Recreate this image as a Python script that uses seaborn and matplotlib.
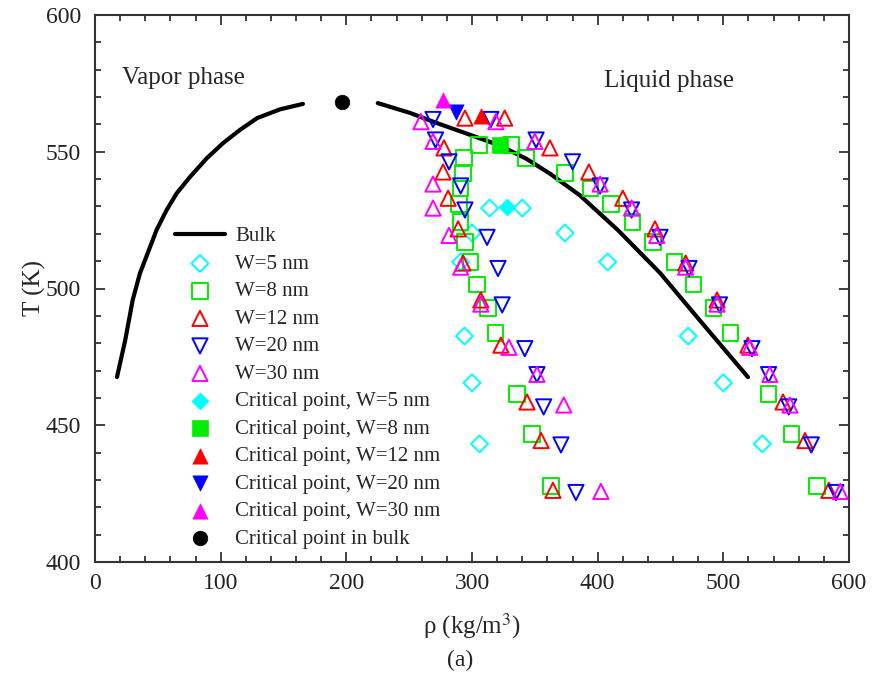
import matplotlib
matplotlib.use("Agg")
import matplotlib.pyplot as plt
import seaborn as sns
import numpy as np
from matplotlib.ticker import MultipleLocator

sns.set_theme(style="ticks")
plt.rcParams['font.family'] = ['Liberation Serif', 'DejaVu Serif']
plt.rcParams['mathtext.fontset'] = 'stix'

# ---- data ----
bulk_vap_rho = [17.5, 24, 30, 35.8, 42, 49, 57, 65, 75.6, 88.9, 102, 115.4, 129, 147.2, 165.5]
bulk_vap_T = [467.6, 481, 495.8, 505.6, 513, 521.4, 528.7, 534.8, 540.8, 547.6, 553.2, 558, 562.3, 565.5, 567.5]
bulk_liq_rho = [225, 250.7, 272, 296, 322, 343, 362, 386, 416, 449.6, 481, 519.6]
bulk_liq_T = [567.8, 564.2, 560.5, 556.6, 552.3, 547.5, 542, 534, 521.4, 505.7, 488.5, 467.6]
bulk_crit_rho = [196.5]
bulk_crit_T = [568.2]

w5_rho = [306, 300, 294, 291, 300, 314, 340, 374, 408, 472, 500, 531]
w5_T = [443.2, 465.5, 482.6, 509.7, 520.3, 529.4, 529.4, 520.3, 509.7, 482.6, 465.5, 443.2]
w5_crit = ([327.8], [529.8])

w8_T_half = [552.5, 547.7, 542.2, 536.7, 530.9, 524.3, 517, 509.7, 501.6, 492.9, 483.7, 461.4, 446.8, 427.8]
w8_rho_vap = [305.6, 293.6, 292.8, 291, 289.6, 291, 294.4, 299, 304, 312.7, 319, 335.8, 347.7, 362.9]
w8_rho_liq = [331, 343, 374, 394, 410.6, 428, 444, 461, 476, 492, 506, 536, 554, 574.5]
w8_crit = ([322], [552.5])

w12_T_half = [562.3, 551.4, 542.6, 533, 521.8, 509.3, 495.8, 479.3, 458.5, 444.4, 426.2]
w12_rho_vap = [294.4, 277.7, 277, 281, 289, 292.8, 307, 323, 343.8, 355, 364.4]
w12_rho_liq = [326, 362, 393, 420, 445.6, 470, 495, 519.6, 547.5, 565, 584]
w12_crit = ([307], [563])

w20_T_half = [561.8, 554.3, 546.3, 537.5, 528.7, 518.7, 507.3, 494, 478, 468.5, 456.7, 442.8, 425.4]
w20_rho_vap = [269, 271, 281.7, 291, 294.4, 312, 320.7, 324, 342, 351.7, 357, 370.8, 382.7]
w20_rho_liq = [315, 351, 380, 402, 427, 449.6, 472.7, 497, 522.8, 536, 552, 570, 589.6]
w20_crit = ([287.5], [564.6])

w30_T_half = [561, 553.8, 538.2, 529.4, 519.4, 507.8, 494.3, 478.5, 468.6, 457.4, 425.8]
w30_rho_vap = [259.4, 269, 269, 269, 281.7, 291, 307, 329.4, 351.7, 373, 402.6]
w30_rho_liq = [319, 350, 402, 427, 447, 470, 495, 521, 537, 553, 593]
w30_crit = ([277], [569])

x_ticks = [0, 100, 200, 300, 400, 500, 600]
y_ticks = [400, 450, 500, 550, 600]

# ---- figure ----
fig = plt.figure(figsize=(8.76, 6.76), dpi=100)
ax = fig.add_axes([95/876, 1-562/676, (849-95)/876, (562-15)/676])

sns.lineplot(x=bulk_vap_rho, y=bulk_vap_T, sort=False, color='black', lw=3, ax=ax, label='Bulk')
sns.lineplot(x=bulk_liq_rho, y=bulk_liq_T, sort=False, color='black', lw=3, ax=ax)

hollow = [
    ('W=5 nm', w5_rho, w5_T, 'D', '#00FFFF', 75),
    ('W=8 nm', w8_rho_vap + w8_rho_liq, w8_T_half + w8_T_half, 's', '#00EE00', 120),
    ('W=12 nm', w12_rho_vap + w12_rho_liq, w12_T_half + w12_T_half, '^', '#FF0000', 120),
    ('W=20 nm', w20_rho_vap + w20_rho_liq, w20_T_half + w20_T_half, 'v', '#0000FF', 120),
    ('W=30 nm', w30_rho_vap + w30_rho_liq, w30_T_half + w30_T_half, '^', '#FF00FF', 120),
]
for lab, xs, ys, m, c, s in hollow:
    sns.scatterplot(x=xs, y=ys, marker=m, s=s, color=c, facecolor='none', edgecolor=c,
                    linewidth=1.4, ax=ax, label=lab, zorder=3)

filled = [
    ('Critical point, W=5 nm', w5_crit, 'D', '#00FFFF', 75),
    ('Critical point, W=8 nm', w8_crit, 's', '#00EE00', 120),
    ('Critical point, W=12 nm', w12_crit, '^', '#FF0000', 120),
    ('Critical point, W=20 nm', w20_crit, 'v', '#0000FF', 120),
    ('Critical point, W=30 nm', w30_crit, '^', '#FF00FF', 120),
    ('Critical point in bulk', (bulk_crit_rho, bulk_crit_T), 'o', 'black', 110),
]
for lab, (xs, ys), m, c, s in filled:
    sns.scatterplot(x=xs, y=ys, marker=m, s=s, color=c, edgecolor=c, linewidth=0.5,
                    ax=ax, label=lab, zorder=4)

ax.set_xlim(0, 600)
ax.set_ylim(400, 600)
ax.set_xticks(x_ticks)
ax.set_yticks(y_ticks)
ax.xaxis.set_minor_locator(MultipleLocator(20))
ax.yaxis.set_minor_locator(MultipleLocator(10))
ax.tick_params(which='both', direction='in', top=True, right=True, labelsize=17,
               width=1.3, color='#333333', labelcolor='#222222')
ax.tick_params(axis='y', which='major', pad=10)
ax.tick_params(axis='x', which='major', pad=8)
ax.tick_params(which='major', length=7)
ax.tick_params(which='minor', length=4)
for sp in ax.spines.values():
    sp.set_linewidth(1.5)
    sp.set_color('#333333')

ax.set_xlabel('ρ (kg/m$^3$)', fontsize=18, labelpad=12)
ax.set_ylabel('T (K)', fontsize=18, labelpad=0)

ax.text(70, 577, 'Vapor phase', fontsize=18, ha='center', va='center')
ax.text(457, 576, 'Liquid phase', fontsize=18, ha='center', va='center')
fig.text(460/876, 1-660/676, '(a)', fontsize=17, ha='center', va='center')

handles, labels = ax.get_legend_handles_labels()
leg = ax.legend(handles, labels, loc='upper left', bbox_to_anchor=(0.095, 0.628),
                frameon=False, fontsize=15, handlelength=2.4, handletextpad=0.5,
                labelspacing=0.38, borderaxespad=0)

fig.savefig('out.png', dpi=100)
